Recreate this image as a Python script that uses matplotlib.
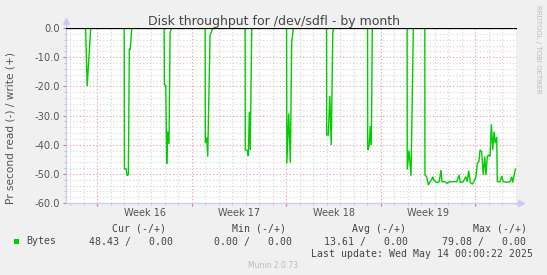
import matplotlib
matplotlib.use('Agg')
import matplotlib.pyplot as plt
from matplotlib.transforms import blended_transform_factory
from matplotlib.patches import Rectangle

W, H = 547, 275

# time in days relative to Monday of ISO week 16 (2025-04-14)
x_start, x_end = -2.32, 31.09
week_starts = [0, 7, 14, 21, 28]
week_labels = ["Week 16", "Week 17", "Week 18", "Week 19"]

# read throughput (bytes/s) shown negative; write stays 0
t_days = [-2.32, -0.87, -0.75, -0.49,
          1.99, 2.01, 2.13, 2.20, 2.30, 2.37, 2.44, 2.55,
          4.95, 4.97, 5.07, 5.14, 5.21, 5.31, 5.39, 5.48,
          7.99, 8.00, 8.10, 8.18, 8.35, 8.42, 8.55,
          10.95, 10.96, 11.11, 11.19, 11.26, 11.33, 11.44,
          14.02, 14.04, 14.18, 14.30, 14.40, 14.52,
          16.98, 16.99, 17.11, 17.22, 17.33, 17.44, 17.51,
          20.02, 20.03, 20.13, 20.22, 20.30, 20.37,
          22.95, 22.96, 23.09, 23.24, 23.41,
          24.26, 24.27, 24.40, 24.52, 24.64, 24.77, 24.84, 24.94, 25.07, 25.19,
          25.33, 25.46, 25.53, 25.76, 25.93, 26.07, 26.37, 26.62, 26.79, 26.89,
          27.11, 27.29, 27.41, 27.51, 27.63, 27.78, 27.90, 28.05, 28.15, 28.27,
          28.35, 28.47, 28.59, 28.70, 28.79, 28.89, 28.99, 29.09, 29.19, 29.29,
          29.39, 29.48, 29.59, 29.63, 29.83, 29.96, 30.07, 30.33, 30.57, 30.70,
          30.77, 30.87, 30.97]
read_bps = [0, 0, 19.9, 0,
            0, 48.3, 48.3, 50.6, 50.2, 7.3, 7.3, 0,
            0, 19.6, 19.6, 46.6, 35.5, 39.8, 1.8, 0,
            0, 39.3, 37.5, 44.1, 2.5, 1.8, 0,
            0, 41.8, 42.0, 43.9, 28.7, 41.8, 0,
            0, 46.4, 29.3, 46.2, 5.0, 0,
            0, 36.7, 36.7, 23.3, 40.1, 1.8, 0,
            0, 41.8, 40.5, 33.6, 40.0, 0,
            0, 48.5, 42.0, 50.7, 0,
            0, 50.4, 51.0, 53.8, 52.7, 52.1, 51.0, 52.1, 52.7, 53.0,
            52.7, 48.7, 52.7, 52.7, 53.3, 52.7, 52.7, 52.7, 50.4, 53.0,
            52.7, 51.0, 52.7, 48.9, 53.0, 53.5, 52.7, 51.0, 46.4, 45.8,
            41.8, 42.4, 50.4, 44.1, 50.4, 44.1, 43.5, 44.1, 33.0, 41.8,
            35.5, 39.5, 37.3, 52.7, 52.7, 50.7, 52.7, 52.9, 52.7, 51.0,
            53.0, 50.7, 48.4]
y_ticks = [0, -10, -20, -30, -40, -50, -60]

title = "Disk throughput for /dev/sdfl - by month"
ylabel = "Pr second read (-) / write (+)"
headers = ["Cur (-/+)", "Min (-/+)", "Avg (-/+)", "Max (-/+)"]
values = ["48.43 /   0.00", "0.00 /   0.00", "13.61 /   0.00", "79.08 /   0.00"]
series_name = "Bytes"
last_update = "Last update: Wed May 14 00:00:22 2025"

def fx(px):
    return px / W

def fy(py):
    return 1 - py / H

fig = plt.figure(figsize=(W / 100, H / 100), dpi=100, facecolor='#F0F0F0')
ax = fig.add_axes([fx(66), fy(203), (517 - 66) / W, (203 - 28) / H])
ax.set_facecolor('white')

neg = [-v for v in read_bps]
ax.plot(t_days, neg, color='#00CC00', lw=1.0, zorder=3, solid_joinstyle='miter')
ax.axhline(0, color='black', lw=0.9, zorder=4)

ax.set_xlim(x_start, x_end)
ax.set_ylim(-60, 0)

ax.set_xticks(week_starts)
ax.set_xticks([d for d in range(-2, 32) if d % 7 != 0], minor=True)
ax.set_xticklabels([])
ax.set_yticks(y_ticks)
ax.set_yticks([v for v in range(-58, 0, 2) if v % 10 != 0], minor=True)
ax.set_yticklabels([f"{v:.1f}" for v in y_ticks])

ax.grid(which='minor', color='#D4D4D4', linestyle=(0, (1, 2)), lw=0.8)
ax.grid(which='major', color='#E89A9A', linestyle=(0, (1, 2)), lw=0.8)
ax.set_axisbelow(True)

ax.tick_params(which='major', length=2.4, width=0.8, color='#E07070', direction='out',
               pad=2.0, labelsize=7.1, labelcolor='#555555')
ax.tick_params(which='minor', length=1.5, width=0.7, color='#C0C0C0', direction='out')

for s in ['top', 'right']:
    ax.spines[s].set_visible(False)
axis_col = '#C8CCF0'
for s in ['left', 'bottom']:
    ax.spines[s].set_color(axis_col)
    ax.spines[s].set_linewidth(0.9)

# axis extensions with arrows
ax.plot([0, 0], [1, 1.035], color=axis_col, lw=0.9, transform=ax.transAxes, clip_on=False)
ax.plot([1, 1.006], [0, 0], color=axis_col, lw=0.9, transform=ax.transAxes, clip_on=False)
ax.plot([0], [1.04], marker='^', ms=4, color=axis_col, transform=ax.transAxes, clip_on=False)
ax.plot([1.008], [0], marker='>', ms=4, color=axis_col, transform=ax.transAxes, clip_on=False)

# week labels centred in each week
trans = blended_transform_factory(ax.transData, fig.transFigure)
for ws, lab in zip(week_starts, week_labels):
    ax.text(ws + 3.5, fy(213), lab, transform=trans, ha='center', va='center',
            fontsize=7.0, color='#555555')

fig.text(fx(273.5), fy(25.5), title, ha='center', va='baseline', fontsize=9, color='#444444')
fig.text(fx(11), fy(128), ylabel, rotation=90, ha='center', va='center',
         fontsize=7.6, color='#555555')

mono = 'DejaVu Sans Mono'
header_x = [111.6, 232.0, 352.4, 472.8]
value_x = [89.0, 213.5, 324.5, 442.4]
for hx, h in zip(header_x, headers):
    fig.text(fx(hx), fy(228.6), h, family=mono, fontsize=7.15, ha='left', va='center', color='#444444')
for vx, v in zip(value_x, values):
    fig.text(fx(vx), fy(241.5), v, family=mono, fontsize=7.15, ha='left', va='center', color='#444444')
fig.text(fx(26.2), fy(241.5), series_name, family=mono, fontsize=7.15, ha='left', va='center', color='#444444')
fig.patches.append(Rectangle((fx(14), fy(244)), 5 / W, 5 / H, transform=fig.transFigure,
                             facecolor='#00CC00', edgecolor='none'))
fig.text(fx(532.8), fy(254), last_update, family=mono, fontsize=7.15, ha='right', va='center', color='#444444')
fig.text(fx(273), fy(266), "Munin 2.0.73", fontsize=5.5, ha='center', va='center', color='#BBBBBB')
fig.text(fx(537.7), fy(5), "RRDTOOL / TOBI OETIKER", fontsize=5.0, rotation=270,
         ha='center', va='top', color='#BBBBBB')

fig.savefig('out.png', dpi=100, facecolor=fig.get_facecolor())
